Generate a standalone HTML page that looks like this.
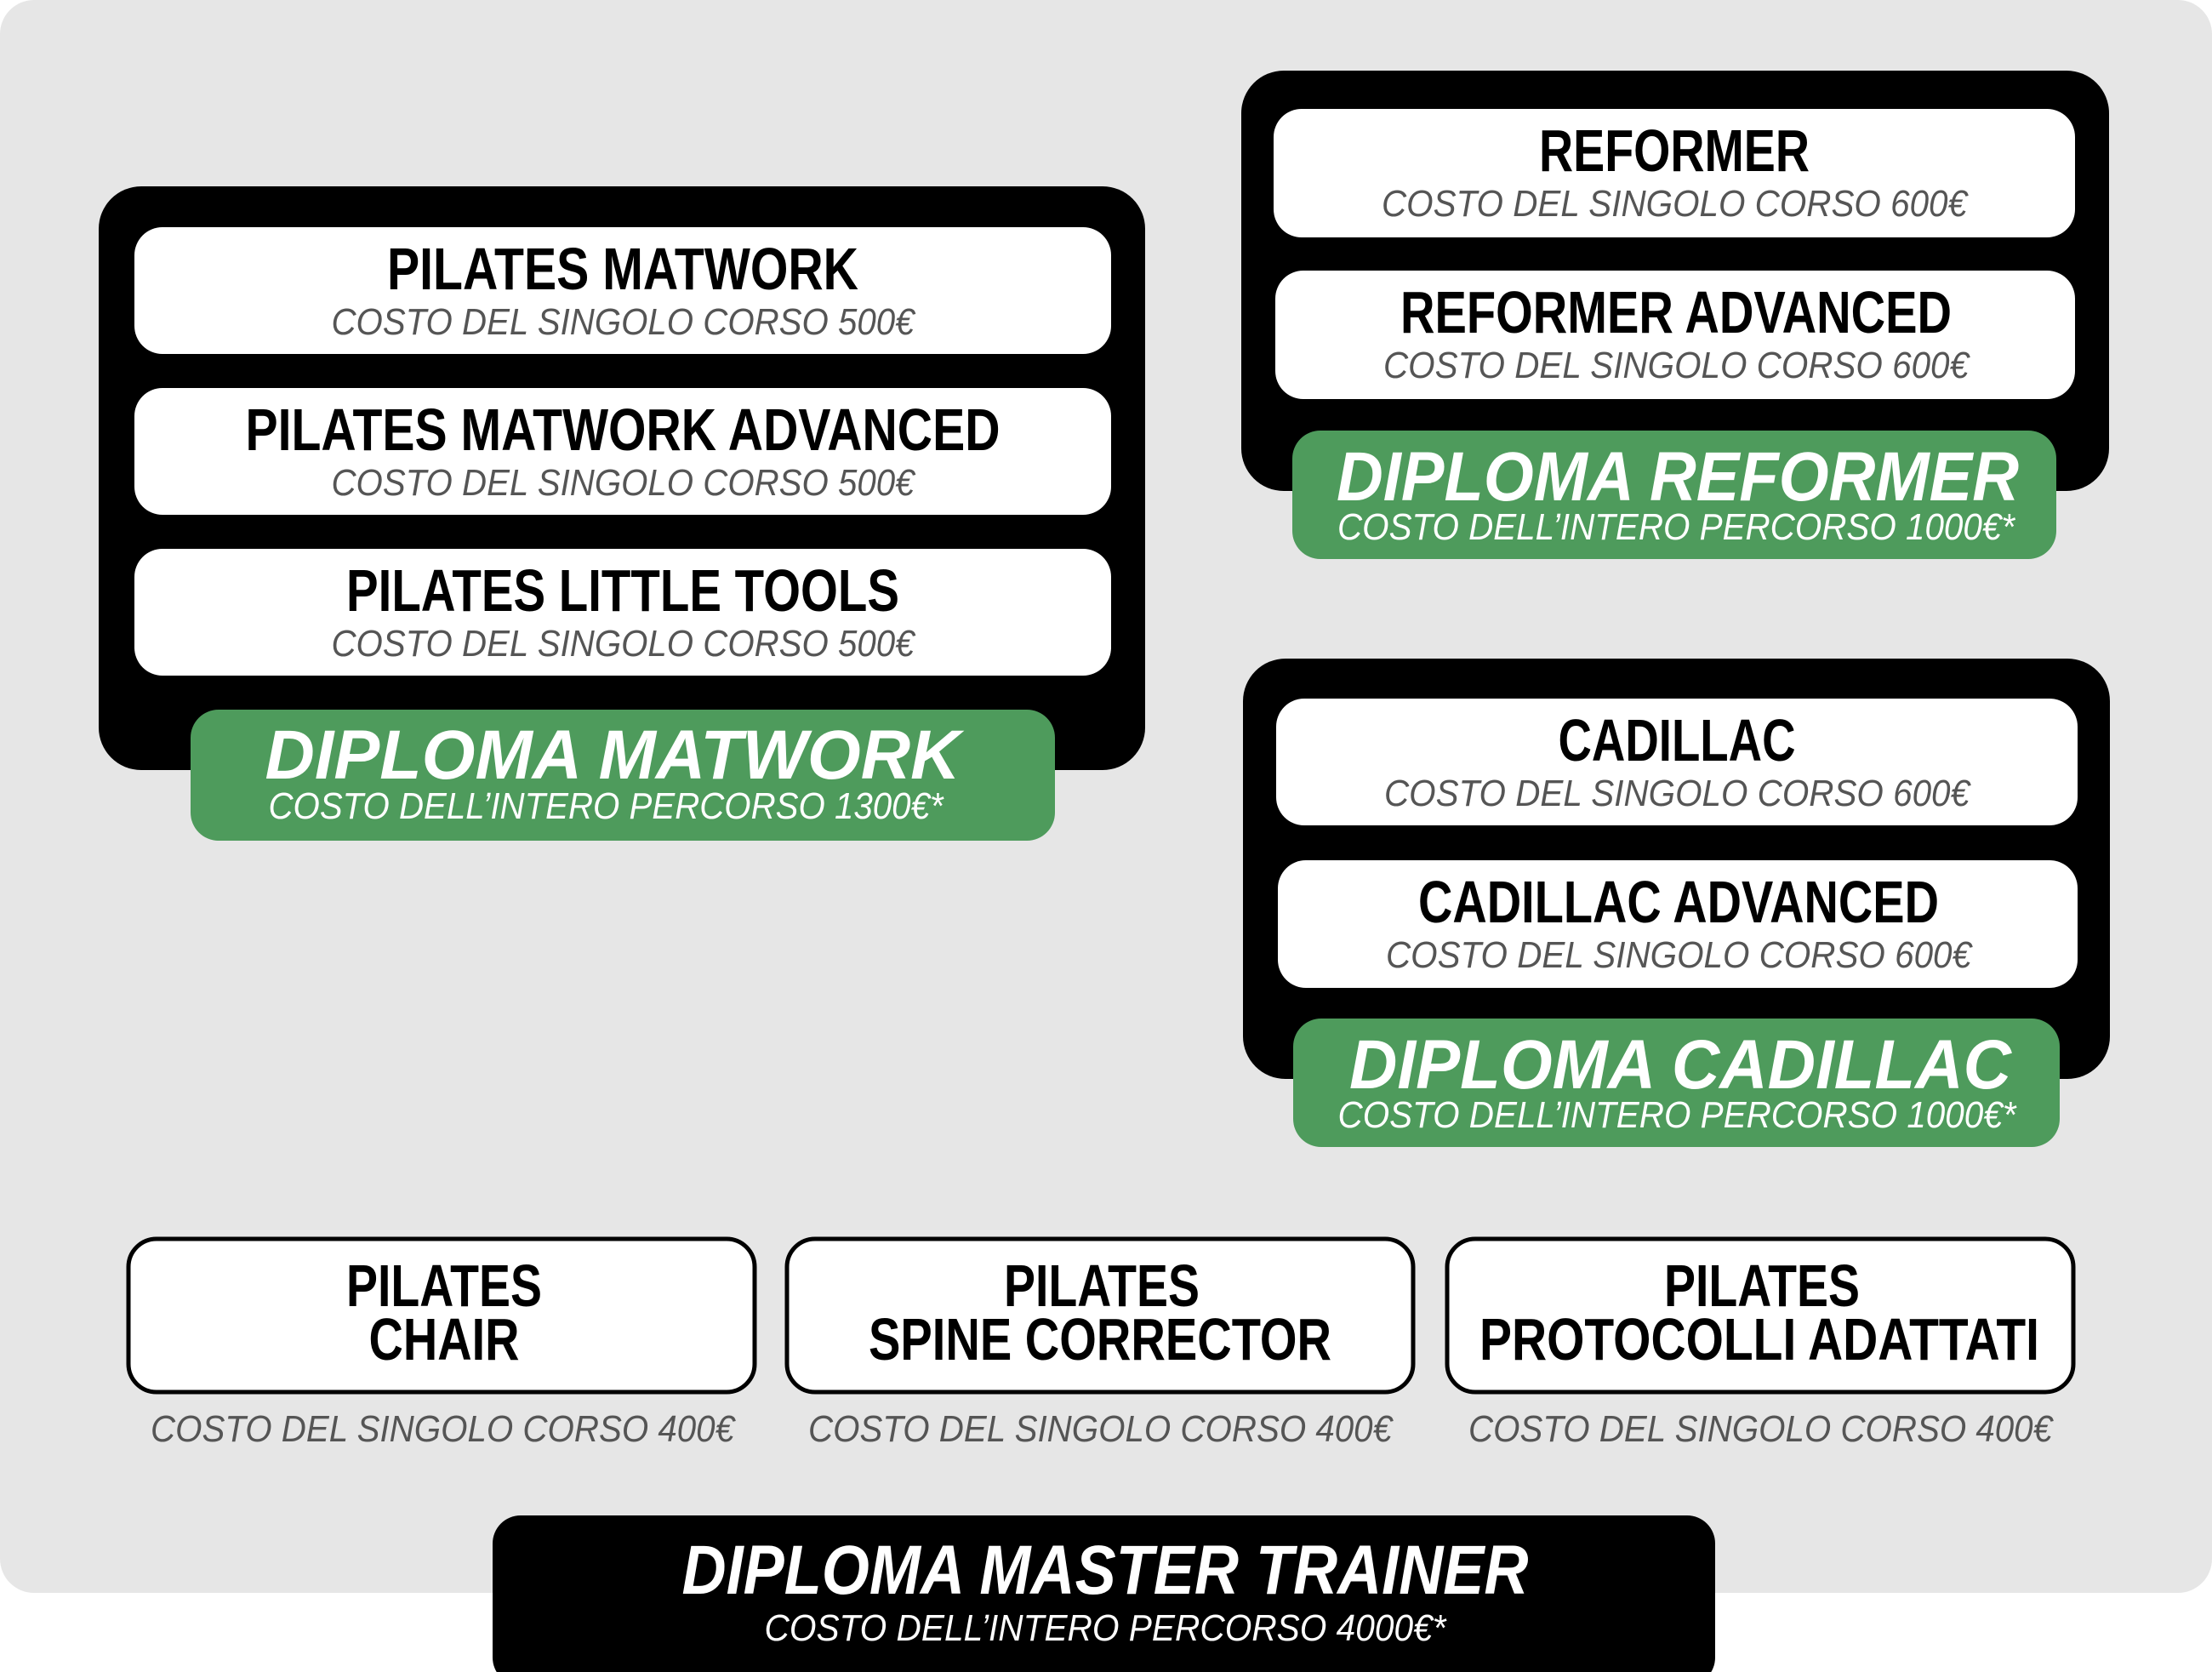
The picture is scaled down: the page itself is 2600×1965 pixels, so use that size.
<!DOCTYPE html>
<html><head><meta charset="utf-8"><style>
html,body{margin:0;padding:0;background:#fff;}
svg{display:block;}
.t{font-family:"Liberation Sans",sans-serif;font-weight:bold;fill:#000;}
.s{font-family:"Liberation Sans",sans-serif;font-style:italic;fill:#555;}
.dt{font-family:"Liberation Sans",sans-serif;font-weight:bold;font-style:italic;fill:#fff;}
.ds{font-family:"Liberation Sans",sans-serif;font-style:italic;fill:#fff;}
</style></head><body>
<svg width="2600" height="1965" viewBox="0 0 2600 1965" xmlns="http://www.w3.org/2000/svg">
<rect x="0" y="0" width="2600" height="1872" rx="40" fill="#e6e6e6"/>

<!-- Matwork -->
<rect x="116" y="219" width="1230" height="686" rx="50" fill="#000"/>
<rect x="158" y="267" width="1148" height="149" rx="33" fill="#fff"/>
<rect x="158" y="456" width="1148" height="149" rx="33" fill="#fff"/>
<rect x="158" y="645" width="1148" height="149" rx="33" fill="#fff"/>
<text class="t" x="732" y="340" font-size="70" text-anchor="middle" textLength="554" lengthAdjust="spacingAndGlyphs">PILATES MATWORK</text>
<text class="s" x="732" y="393" font-size="44" text-anchor="middle" textLength="685" lengthAdjust="spacingAndGlyphs">COSTO DEL SINGOLO CORSO 500€</text>
<text class="t" x="732" y="529" font-size="70" text-anchor="middle" textLength="887" lengthAdjust="spacingAndGlyphs">PILATES MATWORK ADVANCED</text>
<text class="s" x="732" y="582" font-size="44" text-anchor="middle" textLength="685" lengthAdjust="spacingAndGlyphs">COSTO DEL SINGOLO CORSO 500€</text>
<text class="t" x="732" y="718" font-size="70" text-anchor="middle" textLength="650" lengthAdjust="spacingAndGlyphs">PILATES LITTLE TOOLS</text>
<text class="s" x="732" y="771" font-size="44" text-anchor="middle" textLength="685" lengthAdjust="spacingAndGlyphs">COSTO DEL SINGOLO CORSO 500€</text>
<rect x="224" y="834" width="1016" height="154" rx="33" fill="#4e9b5c"/>
<text class="dt" x="720" y="915" font-size="82" text-anchor="middle" textLength="817" lengthAdjust="spacingAndGlyphs">DIPLOMA MATWORK</text>
<text class="ds" x="712" y="962" font-size="44" text-anchor="middle" textLength="793" lengthAdjust="spacingAndGlyphs">COSTO DELL’INTERO PERCORSO 1300€*</text>

<!-- Reformer -->
<rect x="1459" y="83" width="1020" height="494" rx="50" fill="#000"/>
<rect x="1497" y="128" width="942" height="151" rx="33" fill="#fff"/>
<rect x="1499" y="318" width="940" height="151" rx="33" fill="#fff"/>
<text class="t" x="1968" y="201" font-size="70" text-anchor="middle" textLength="318" lengthAdjust="spacingAndGlyphs">REFORMER</text>
<text class="s" x="1968" y="254" font-size="44" text-anchor="middle" textLength="688" lengthAdjust="spacingAndGlyphs">COSTO DEL SINGOLO CORSO 600€</text>
<text class="t" x="1970" y="391" font-size="70" text-anchor="middle" textLength="648" lengthAdjust="spacingAndGlyphs">REFORMER ADVANCED</text>
<text class="s" x="1970" y="444" font-size="44" text-anchor="middle" textLength="688" lengthAdjust="spacingAndGlyphs">COSTO DEL SINGOLO CORSO 600€</text>
<rect x="1519" y="506" width="898" height="151" rx="33" fill="#4e9b5c"/>
<text class="dt" x="1972" y="588" font-size="82" text-anchor="middle" textLength="802" lengthAdjust="spacingAndGlyphs">DIPLOMA REFORMER</text>
<text class="ds" x="1970" y="634" font-size="44" text-anchor="middle" textLength="796" lengthAdjust="spacingAndGlyphs">COSTO DELL’INTERO PERCORSO 1000€*</text>

<!-- Cadillac -->
<rect x="1461" y="774" width="1019" height="494" rx="50" fill="#000"/>
<rect x="1500" y="821" width="942" height="149" rx="33" fill="#fff"/>
<rect x="1502" y="1011" width="940" height="150" rx="33" fill="#fff"/>
<text class="t" x="1971" y="894" font-size="70" text-anchor="middle" textLength="279" lengthAdjust="spacingAndGlyphs">CADILLAC</text>
<text class="s" x="1971" y="947" font-size="44" text-anchor="middle" textLength="688" lengthAdjust="spacingAndGlyphs">COSTO DEL SINGOLO CORSO 600€</text>
<text class="t" x="1973" y="1084" font-size="70" text-anchor="middle" textLength="612" lengthAdjust="spacingAndGlyphs">CADILLAC ADVANCED</text>
<text class="s" x="1973" y="1137" font-size="44" text-anchor="middle" textLength="688" lengthAdjust="spacingAndGlyphs">COSTO DEL SINGOLO CORSO 600€</text>
<rect x="1520" y="1197" width="901" height="151" rx="33" fill="#4e9b5c"/>
<text class="dt" x="1975" y="1279" font-size="82" text-anchor="middle" textLength="778" lengthAdjust="spacingAndGlyphs">DIPLOMA CADILLAC</text>
<text class="ds" x="1971" y="1325" font-size="44" text-anchor="middle" textLength="797" lengthAdjust="spacingAndGlyphs">COSTO DELL’INTERO PERCORSO 1000€*</text>

<!-- Bottom boxes -->
<rect x="151" y="1456" width="736" height="180" rx="33" fill="#fff" stroke="#000" stroke-width="5"/>
<rect x="925" y="1456" width="736" height="180" rx="33" fill="#fff" stroke="#000" stroke-width="5"/>
<rect x="1701" y="1456" width="736" height="180" rx="33" fill="#fff" stroke="#000" stroke-width="5"/>
<text class="t" x="522" y="1535" font-size="70" text-anchor="middle" textLength="230" lengthAdjust="spacingAndGlyphs">PILATES</text>
<text class="t" x="522" y="1598" font-size="70" text-anchor="middle" textLength="177" lengthAdjust="spacingAndGlyphs">CHAIR</text>
<text class="t" x="1295" y="1535" font-size="70" text-anchor="middle" textLength="230" lengthAdjust="spacingAndGlyphs">PILATES</text>
<text class="t" x="1293" y="1598" font-size="70" text-anchor="middle" textLength="544" lengthAdjust="spacingAndGlyphs">SPINE CORRECTOR</text>
<text class="t" x="2071" y="1535" font-size="70" text-anchor="middle" textLength="230" lengthAdjust="spacingAndGlyphs">PILATES</text>
<text class="t" x="2068" y="1598" font-size="70" text-anchor="middle" textLength="658" lengthAdjust="spacingAndGlyphs">PROTOCOLLI ADATTATI</text>
<text class="s" x="520" y="1694" font-size="44" text-anchor="middle" textLength="686" lengthAdjust="spacingAndGlyphs">COSTO DEL SINGOLO CORSO 400€</text>
<text class="s" x="1293" y="1694" font-size="44" text-anchor="middle" textLength="686" lengthAdjust="spacingAndGlyphs">COSTO DEL SINGOLO CORSO 400€</text>
<text class="s" x="2069" y="1694" font-size="44" text-anchor="middle" textLength="686" lengthAdjust="spacingAndGlyphs">COSTO DEL SINGOLO CORSO 400€</text>

<!-- Master -->
<rect x="579" y="1781" width="1437" height="200" rx="33" fill="#000"/>
<text class="dt" x="1299" y="1873" font-size="82" text-anchor="middle" textLength="995" lengthAdjust="spacingAndGlyphs">DIPLOMA MASTER TRAINER</text>
<text class="ds" x="1299" y="1928" font-size="44" text-anchor="middle" textLength="801" lengthAdjust="spacingAndGlyphs">COSTO DELL’INTERO PERCORSO 4000€*</text>
</svg>
</body></html>
